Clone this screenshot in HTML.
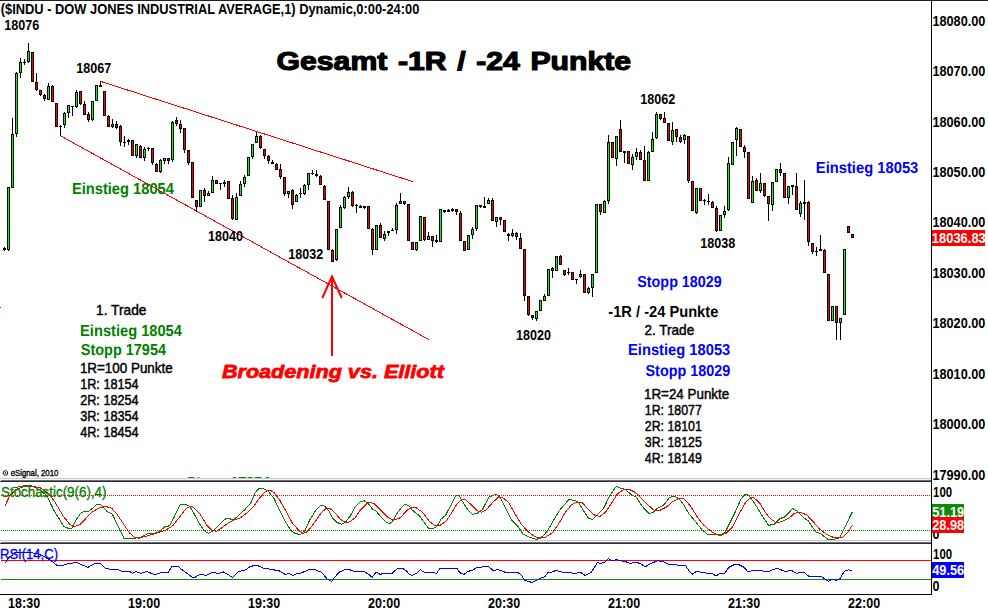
<!DOCTYPE html>
<html><head><meta charset="utf-8"><title>chart</title>
<style>
html,body{margin:0;padding:0;background:#fff}
body{width:988px;height:614px;overflow:hidden}
svg{display:block;font-family:"Liberation Sans",sans-serif}
</style></head><body>
<svg width="988" height="614" viewBox="0 0 988 614">
<rect width="988" height="614" fill="#fff"/>
<g shape-rendering="crispEdges">
<rect x="0" y="0" width="988" height="1" fill="#1a261a"/>
<rect x="931" y="0" width="1" height="595" fill="#000"/>
<!-- clipped text peeking above splitter -->
</g>
<svg x="180" y="477" width="100" height="1" viewBox="180 477 100 1"><text x="186.5" y="488.25" text-rendering="geometricPrecision" font-size="15.94" font-weight="bold" fill="#008000" stroke="#008000" stroke-width="0.5" textLength="83.3" lengthAdjust="spacingAndGlyphs">Stopp 17954</text></svg>
<g shape-rendering="crispEdges">
<!-- splitters -->
<rect x="0" y="478" width="931" height="1" fill="#c6ccc6"/>
<rect x="0" y="479" width="931" height="1" fill="#f4f6f4"/>
<rect x="1" y="480" width="930" height="1" fill="#6e6a78"/>
<rect x="0" y="481" width="931" height="1" fill="#2e2a32"/>
<rect x="0" y="540" width="931" height="1" fill="#c6ccc6"/>
<rect x="0" y="541" width="931" height="1" fill="#f4f6f4"/>
<rect x="1" y="542" width="930" height="1" fill="#6e6a78"/>
<rect x="0" y="543" width="931" height="1" fill="#2e2a32"/>
<rect x="0" y="594" width="932" height="1" fill="#000"/>
<rect x="0" y="307" width="1" height="1" fill="#f00"/>
<!-- stochastic levels -->
<line x1="1" y1="495.5" x2="931" y2="495.5" stroke="#f00" stroke-width="1" stroke-dasharray="1 1"/>
<line x1="1" y1="530.5" x2="931" y2="530.5" stroke="#008000" stroke-width="1" stroke-dasharray="1 1"/>
<!-- rsi levels -->
<rect x="1" y="560" width="930" height="1" fill="#f00"/>
<rect x="1" y="579" width="930" height="1" fill="#089008"/>
<!-- trend lines -->
<line x1="101" y1="81.5" x2="413" y2="181.7" stroke="#f00" stroke-width="1"/>
<line x1="60.5" y1="135.8" x2="429" y2="339.7" stroke="#f00" stroke-width="1"/>
</g>
<g shape-rendering="crispEdges" fill="#000">
<rect x="8" y="187" width="1" height="64"/>
<rect x="7" y="187" width="3" height="63"/>
<rect x="8" y="188" width="1" height="61" fill="#0f0"/>
<rect x="12" y="118" width="1" height="70"/>
<rect x="11" y="134" width="3" height="54"/>
<rect x="12" y="135" width="1" height="52" fill="#0f0"/>
<rect x="16" y="72" width="1" height="65"/>
<rect x="15" y="73" width="3" height="61"/>
<rect x="16" y="74" width="1" height="59" fill="#0f0"/>
<rect x="20" y="58" width="1" height="20"/>
<rect x="19" y="62" width="3" height="11"/>
<rect x="20" y="63" width="1" height="9" fill="#0f0"/>
<rect x="28" y="43" width="1" height="20"/>
<rect x="27" y="51" width="3" height="11"/>
<rect x="28" y="52" width="1" height="9" fill="#0f0"/>
<rect x="31" y="52" width="3" height="30"/>
<rect x="32" y="53" width="1" height="28" fill="#f00"/>
<rect x="36" y="73" width="1" height="18"/>
<rect x="35" y="82" width="3" height="8"/>
<rect x="36" y="83" width="1" height="6" fill="#f00"/>
<rect x="40" y="90" width="1" height="6"/>
<rect x="39" y="90" width="3" height="5"/>
<rect x="40" y="91" width="1" height="3" fill="#f00"/>
<rect x="44" y="94" width="1" height="7"/>
<rect x="43" y="95" width="3" height="4"/>
<rect x="44" y="96" width="1" height="2" fill="#f00"/>
<rect x="48" y="83" width="1" height="17"/>
<rect x="47" y="86" width="3" height="14"/>
<rect x="48" y="87" width="1" height="12" fill="#0f0"/>
<rect x="52" y="85" width="1" height="17"/>
<rect x="51" y="86" width="3" height="16"/>
<rect x="52" y="87" width="1" height="14" fill="#f00"/>
<rect x="55" y="103" width="3" height="24"/>
<rect x="56" y="104" width="1" height="22" fill="#f00"/>
<rect x="64" y="112" width="1" height="16"/>
<rect x="63" y="113" width="3" height="12"/>
<rect x="64" y="114" width="1" height="10" fill="#0f0"/>
<rect x="68" y="105" width="1" height="13"/>
<rect x="67" y="105" width="3" height="8"/>
<rect x="68" y="106" width="1" height="6" fill="#0f0"/>
<rect x="76" y="90" width="1" height="18"/>
<rect x="75" y="92" width="3" height="15"/>
<rect x="76" y="93" width="1" height="13" fill="#0f0"/>
<rect x="80" y="91" width="1" height="14"/>
<rect x="79" y="91" width="3" height="13"/>
<rect x="80" y="92" width="1" height="11" fill="#f00"/>
<rect x="84" y="101" width="1" height="14"/>
<rect x="83" y="104" width="3" height="11"/>
<rect x="84" y="105" width="1" height="9" fill="#f00"/>
<rect x="88" y="112" width="1" height="10"/>
<rect x="87" y="114" width="3" height="6"/>
<rect x="88" y="115" width="1" height="4" fill="#f00"/>
<rect x="92" y="101" width="1" height="20"/>
<rect x="91" y="101" width="3" height="19"/>
<rect x="92" y="102" width="1" height="17" fill="#0f0"/>
<rect x="95" y="85" width="3" height="16"/>
<rect x="96" y="86" width="1" height="14" fill="#0f0"/>
<rect x="103" y="91" width="3" height="25"/>
<rect x="104" y="92" width="1" height="23" fill="#f00"/>
<rect x="108" y="115" width="1" height="12"/>
<rect x="107" y="116" width="3" height="11"/>
<rect x="108" y="117" width="1" height="9" fill="#f00"/>
<rect x="112" y="119" width="1" height="9"/>
<rect x="111" y="124" width="3" height="3"/>
<rect x="112" y="125" width="1" height="1" fill="#0f0"/>
<rect x="116" y="121" width="1" height="8"/>
<rect x="115" y="124" width="3" height="4"/>
<rect x="116" y="125" width="1" height="2" fill="#f00"/>
<rect x="120" y="125" width="1" height="21"/>
<rect x="119" y="126" width="3" height="16"/>
<rect x="120" y="127" width="1" height="14" fill="#f00"/>
<rect x="131" y="140" width="3" height="16"/>
<rect x="132" y="141" width="1" height="14" fill="#f00"/>
<rect x="136" y="144" width="1" height="14"/>
<rect x="135" y="144" width="3" height="12"/>
<rect x="136" y="145" width="1" height="10" fill="#0f0"/>
<rect x="140" y="145" width="1" height="13"/>
<rect x="139" y="146" width="3" height="12"/>
<rect x="140" y="147" width="1" height="10" fill="#f00"/>
<rect x="144" y="147" width="1" height="14"/>
<rect x="143" y="149" width="3" height="9"/>
<rect x="144" y="150" width="1" height="7" fill="#0f0"/>
<rect x="152" y="148" width="1" height="17"/>
<rect x="151" y="148" width="3" height="15"/>
<rect x="152" y="149" width="1" height="13" fill="#f00"/>
<rect x="156" y="163" width="1" height="9"/>
<rect x="155" y="164" width="3" height="8"/>
<rect x="156" y="165" width="1" height="6" fill="#f00"/>
<rect x="160" y="159" width="1" height="14"/>
<rect x="159" y="160" width="3" height="12"/>
<rect x="160" y="161" width="1" height="10" fill="#0f0"/>
<rect x="164" y="158" width="1" height="6"/>
<rect x="163" y="158" width="3" height="3"/>
<rect x="164" y="159" width="1" height="1" fill="#0f0"/>
<rect x="168" y="158" width="1" height="6"/>
<rect x="167" y="158" width="3" height="3"/>
<rect x="168" y="159" width="1" height="1" fill="#f00"/>
<rect x="172" y="121" width="1" height="41"/>
<rect x="171" y="122" width="3" height="38"/>
<rect x="172" y="123" width="1" height="36" fill="#0f0"/>
<rect x="176" y="117" width="1" height="9"/>
<rect x="175" y="120" width="3" height="4"/>
<rect x="176" y="121" width="1" height="2" fill="#f00"/>
<rect x="180" y="120" width="1" height="13"/>
<rect x="179" y="124" width="3" height="5"/>
<rect x="180" y="125" width="1" height="3" fill="#f00"/>
<rect x="184" y="128" width="1" height="25"/>
<rect x="183" y="128" width="3" height="22"/>
<rect x="184" y="129" width="1" height="20" fill="#f00"/>
<rect x="188" y="150" width="1" height="15"/>
<rect x="187" y="150" width="3" height="13"/>
<rect x="188" y="151" width="1" height="11" fill="#f00"/>
<rect x="191" y="162" width="3" height="36"/>
<rect x="192" y="163" width="1" height="34" fill="#f00"/>
<rect x="196" y="200" width="1" height="12"/>
<rect x="195" y="200" width="3" height="7"/>
<rect x="196" y="201" width="1" height="5" fill="#f00"/>
<rect x="199" y="190" width="3" height="17"/>
<rect x="200" y="191" width="1" height="15" fill="#0f0"/>
<rect x="204" y="188" width="1" height="14"/>
<rect x="203" y="190" width="3" height="6"/>
<rect x="204" y="191" width="1" height="4" fill="#f00"/>
<rect x="208" y="191" width="1" height="5"/>
<rect x="207" y="193" width="3" height="3"/>
<rect x="208" y="194" width="1" height="1" fill="#0f0"/>
<rect x="212" y="176" width="1" height="17"/>
<rect x="211" y="180" width="3" height="13"/>
<rect x="212" y="181" width="1" height="11" fill="#0f0"/>
<rect x="215" y="180" width="3" height="4"/>
<rect x="216" y="181" width="1" height="2" fill="#f00"/>
<rect x="227" y="181" width="3" height="18"/>
<rect x="228" y="182" width="1" height="16" fill="#f00"/>
<rect x="232" y="195" width="1" height="25"/>
<rect x="231" y="198" width="3" height="21"/>
<rect x="232" y="199" width="1" height="19" fill="#f00"/>
<rect x="236" y="193" width="1" height="27"/>
<rect x="235" y="197" width="3" height="23"/>
<rect x="236" y="198" width="1" height="21" fill="#0f0"/>
<rect x="240" y="181" width="1" height="15"/>
<rect x="239" y="184" width="3" height="12"/>
<rect x="240" y="185" width="1" height="10" fill="#0f0"/>
<rect x="244" y="175" width="1" height="12"/>
<rect x="243" y="177" width="3" height="7"/>
<rect x="244" y="178" width="1" height="5" fill="#0f0"/>
<rect x="247" y="157" width="3" height="19"/>
<rect x="248" y="158" width="1" height="17" fill="#0f0"/>
<rect x="252" y="144" width="1" height="15"/>
<rect x="251" y="144" width="3" height="13"/>
<rect x="252" y="145" width="1" height="11" fill="#0f0"/>
<rect x="256" y="132" width="1" height="11"/>
<rect x="255" y="136" width="3" height="7"/>
<rect x="256" y="137" width="1" height="5" fill="#0f0"/>
<rect x="260" y="135" width="1" height="14"/>
<rect x="259" y="136" width="3" height="12"/>
<rect x="260" y="137" width="1" height="10" fill="#f00"/>
<rect x="264" y="149" width="1" height="10"/>
<rect x="263" y="149" width="3" height="7"/>
<rect x="264" y="150" width="1" height="5" fill="#f00"/>
<rect x="268" y="155" width="1" height="9"/>
<rect x="267" y="156" width="3" height="5"/>
<rect x="268" y="157" width="1" height="3" fill="#f00"/>
<rect x="276" y="163" width="1" height="7"/>
<rect x="275" y="164" width="3" height="6"/>
<rect x="276" y="165" width="1" height="4" fill="#f00"/>
<rect x="280" y="164" width="1" height="15"/>
<rect x="279" y="169" width="3" height="8"/>
<rect x="280" y="170" width="1" height="6" fill="#f00"/>
<rect x="284" y="177" width="1" height="19"/>
<rect x="283" y="177" width="3" height="17"/>
<rect x="284" y="178" width="1" height="15" fill="#f00"/>
<rect x="288" y="191" width="1" height="7"/>
<rect x="287" y="191" width="3" height="3"/>
<rect x="288" y="192" width="1" height="1" fill="#0f0"/>
<rect x="292" y="189" width="1" height="20"/>
<rect x="291" y="190" width="3" height="15"/>
<rect x="292" y="191" width="1" height="13" fill="#f00"/>
<rect x="296" y="194" width="1" height="8"/>
<rect x="295" y="195" width="3" height="7"/>
<rect x="296" y="196" width="1" height="5" fill="#0f0"/>
<rect x="304" y="184" width="1" height="11"/>
<rect x="303" y="185" width="3" height="9"/>
<rect x="304" y="186" width="1" height="7" fill="#0f0"/>
<rect x="308" y="173" width="1" height="17"/>
<rect x="307" y="173" width="3" height="12"/>
<rect x="308" y="174" width="1" height="10" fill="#0f0"/>
<rect x="320" y="175" width="1" height="10"/>
<rect x="319" y="176" width="3" height="9"/>
<rect x="320" y="177" width="1" height="7" fill="#f00"/>
<rect x="324" y="185" width="1" height="15"/>
<rect x="323" y="186" width="3" height="14"/>
<rect x="324" y="187" width="1" height="12" fill="#f00"/>
<rect x="327" y="201" width="3" height="49"/>
<rect x="328" y="202" width="1" height="47" fill="#f00"/>
<rect x="332" y="249" width="1" height="13"/>
<rect x="331" y="250" width="3" height="12"/>
<rect x="332" y="251" width="1" height="10" fill="#f00"/>
<rect x="336" y="229" width="1" height="32"/>
<rect x="335" y="229" width="3" height="31"/>
<rect x="336" y="230" width="1" height="29" fill="#0f0"/>
<rect x="340" y="205" width="1" height="23"/>
<rect x="339" y="207" width="3" height="21"/>
<rect x="340" y="208" width="1" height="19" fill="#0f0"/>
<rect x="344" y="196" width="1" height="13"/>
<rect x="343" y="197" width="3" height="11"/>
<rect x="344" y="198" width="1" height="9" fill="#0f0"/>
<rect x="348" y="187" width="1" height="12"/>
<rect x="347" y="192" width="3" height="5"/>
<rect x="348" y="193" width="1" height="3" fill="#0f0"/>
<rect x="352" y="191" width="1" height="16"/>
<rect x="351" y="192" width="3" height="14"/>
<rect x="352" y="193" width="1" height="12" fill="#f00"/>
<rect x="367" y="206" width="3" height="23"/>
<rect x="368" y="207" width="1" height="21" fill="#f00"/>
<rect x="372" y="228" width="1" height="27"/>
<rect x="371" y="229" width="3" height="21"/>
<rect x="372" y="230" width="1" height="19" fill="#f00"/>
<rect x="375" y="225" width="3" height="25"/>
<rect x="376" y="226" width="1" height="23" fill="#0f0"/>
<rect x="380" y="223" width="1" height="15"/>
<rect x="379" y="225" width="3" height="13"/>
<rect x="380" y="226" width="1" height="11" fill="#f00"/>
<rect x="384" y="231" width="1" height="10"/>
<rect x="383" y="234" width="3" height="5"/>
<rect x="384" y="235" width="1" height="3" fill="#0f0"/>
<rect x="396" y="203" width="1" height="31"/>
<rect x="395" y="205" width="3" height="25"/>
<rect x="396" y="206" width="1" height="23" fill="#0f0"/>
<rect x="400" y="193" width="1" height="11"/>
<rect x="399" y="201" width="3" height="3"/>
<rect x="400" y="202" width="1" height="1" fill="#0f0"/>
<rect x="404" y="201" width="1" height="4"/>
<rect x="403" y="201" width="3" height="3"/>
<rect x="404" y="202" width="1" height="1" fill="#f00"/>
<rect x="407" y="204" width="3" height="37"/>
<rect x="408" y="205" width="1" height="35" fill="#f00"/>
<rect x="411" y="242" width="3" height="8"/>
<rect x="412" y="243" width="1" height="6" fill="#f00"/>
<rect x="416" y="242" width="1" height="9"/>
<rect x="415" y="242" width="3" height="8"/>
<rect x="416" y="243" width="1" height="6" fill="#0f0"/>
<rect x="419" y="216" width="3" height="25"/>
<rect x="420" y="217" width="1" height="23" fill="#0f0"/>
<rect x="424" y="217" width="1" height="24"/>
<rect x="423" y="217" width="3" height="23"/>
<rect x="424" y="218" width="1" height="21" fill="#f00"/>
<rect x="428" y="232" width="1" height="8"/>
<rect x="427" y="236" width="3" height="4"/>
<rect x="428" y="237" width="1" height="2" fill="#0f0"/>
<rect x="432" y="236" width="1" height="11"/>
<rect x="431" y="236" width="3" height="5"/>
<rect x="432" y="237" width="1" height="3" fill="#f00"/>
<rect x="439" y="209" width="3" height="33"/>
<rect x="440" y="210" width="1" height="31" fill="#0f0"/>
<rect x="456" y="209" width="1" height="6"/>
<rect x="455" y="209" width="3" height="3"/>
<rect x="456" y="210" width="1" height="1" fill="#f00"/>
<rect x="460" y="211" width="1" height="30"/>
<rect x="459" y="213" width="3" height="28"/>
<rect x="460" y="214" width="1" height="26" fill="#f00"/>
<rect x="463" y="241" width="3" height="10"/>
<rect x="464" y="242" width="1" height="8" fill="#f00"/>
<rect x="467" y="235" width="3" height="15"/>
<rect x="468" y="236" width="1" height="13" fill="#0f0"/>
<rect x="472" y="227" width="1" height="12"/>
<rect x="471" y="229" width="3" height="6"/>
<rect x="472" y="230" width="1" height="4" fill="#0f0"/>
<rect x="476" y="205" width="1" height="26"/>
<rect x="475" y="205" width="3" height="24"/>
<rect x="476" y="206" width="1" height="22" fill="#0f0"/>
<rect x="488" y="198" width="1" height="6"/>
<rect x="487" y="200" width="3" height="4"/>
<rect x="488" y="201" width="1" height="2" fill="#0f0"/>
<rect x="492" y="198" width="1" height="23"/>
<rect x="491" y="200" width="3" height="21"/>
<rect x="492" y="201" width="1" height="19" fill="#f00"/>
<rect x="496" y="217" width="1" height="10"/>
<rect x="495" y="217" width="3" height="5"/>
<rect x="496" y="218" width="1" height="3" fill="#0f0"/>
<rect x="500" y="217" width="1" height="8"/>
<rect x="499" y="217" width="3" height="3"/>
<rect x="500" y="218" width="1" height="1" fill="#f00"/>
<rect x="503" y="220" width="3" height="12"/>
<rect x="504" y="221" width="1" height="10" fill="#f00"/>
<rect x="512" y="229" width="1" height="8"/>
<rect x="511" y="233" width="3" height="3"/>
<rect x="512" y="234" width="1" height="1" fill="#0f0"/>
<rect x="516" y="232" width="1" height="8"/>
<rect x="515" y="233" width="3" height="4"/>
<rect x="516" y="234" width="1" height="2" fill="#f00"/>
<rect x="520" y="233" width="1" height="16"/>
<rect x="519" y="238" width="3" height="11"/>
<rect x="520" y="239" width="1" height="9" fill="#f00"/>
<rect x="524" y="249" width="1" height="52"/>
<rect x="523" y="249" width="3" height="47"/>
<rect x="524" y="250" width="1" height="45" fill="#f00"/>
<rect x="528" y="296" width="1" height="20"/>
<rect x="527" y="296" width="3" height="19"/>
<rect x="528" y="297" width="1" height="17" fill="#f00"/>
<rect x="532" y="315" width="1" height="5"/>
<rect x="531" y="315" width="3" height="3"/>
<rect x="532" y="316" width="1" height="1" fill="#f00"/>
<rect x="536" y="311" width="1" height="10"/>
<rect x="535" y="311" width="3" height="8"/>
<rect x="536" y="312" width="1" height="6" fill="#0f0"/>
<rect x="539" y="300" width="3" height="11"/>
<rect x="540" y="301" width="1" height="9" fill="#0f0"/>
<rect x="544" y="294" width="1" height="7"/>
<rect x="543" y="296" width="3" height="5"/>
<rect x="544" y="297" width="1" height="3" fill="#0f0"/>
<rect x="547" y="269" width="3" height="27"/>
<rect x="548" y="270" width="1" height="25" fill="#0f0"/>
<rect x="552" y="267" width="1" height="11"/>
<rect x="551" y="268" width="3" height="3"/>
<rect x="552" y="269" width="1" height="1" fill="#f00"/>
<rect x="555" y="256" width="3" height="15"/>
<rect x="556" y="257" width="1" height="13" fill="#0f0"/>
<rect x="560" y="255" width="1" height="10"/>
<rect x="559" y="256" width="3" height="9"/>
<rect x="560" y="257" width="1" height="7" fill="#f00"/>
<rect x="564" y="270" width="1" height="6"/>
<rect x="563" y="270" width="3" height="5"/>
<rect x="564" y="271" width="1" height="3" fill="#f00"/>
<rect x="571" y="272" width="3" height="8"/>
<rect x="572" y="273" width="1" height="6" fill="#f00"/>
<rect x="580" y="270" width="1" height="8"/>
<rect x="579" y="274" width="3" height="3"/>
<rect x="580" y="275" width="1" height="1" fill="#0f0"/>
<rect x="583" y="274" width="3" height="19"/>
<rect x="584" y="275" width="1" height="17" fill="#f00"/>
<rect x="588" y="287" width="1" height="7"/>
<rect x="587" y="288" width="3" height="5"/>
<rect x="588" y="289" width="1" height="3" fill="#0f0"/>
<rect x="592" y="274" width="1" height="23"/>
<rect x="591" y="274" width="3" height="14"/>
<rect x="592" y="275" width="1" height="12" fill="#0f0"/>
<rect x="595" y="204" width="3" height="69"/>
<rect x="596" y="205" width="1" height="67" fill="#0f0"/>
<rect x="600" y="204" width="1" height="11"/>
<rect x="599" y="204" width="3" height="8"/>
<rect x="600" y="205" width="1" height="6" fill="#f00"/>
<rect x="604" y="200" width="1" height="13"/>
<rect x="603" y="201" width="3" height="12"/>
<rect x="604" y="202" width="1" height="10" fill="#0f0"/>
<rect x="608" y="135" width="1" height="69"/>
<rect x="607" y="142" width="3" height="59"/>
<rect x="608" y="143" width="1" height="57" fill="#0f0"/>
<rect x="611" y="142" width="3" height="16"/>
<rect x="612" y="143" width="1" height="14" fill="#f00"/>
<rect x="616" y="136" width="1" height="30"/>
<rect x="615" y="136" width="3" height="23"/>
<rect x="616" y="137" width="1" height="21" fill="#0f0"/>
<rect x="620" y="120" width="1" height="32"/>
<rect x="619" y="129" width="3" height="23"/>
<rect x="620" y="130" width="1" height="21" fill="#f00"/>
<rect x="627" y="151" width="3" height="13"/>
<rect x="628" y="152" width="1" height="11" fill="#f00"/>
<rect x="632" y="154" width="1" height="16"/>
<rect x="631" y="157" width="3" height="8"/>
<rect x="632" y="158" width="1" height="6" fill="#0f0"/>
<rect x="636" y="148" width="1" height="12"/>
<rect x="635" y="152" width="3" height="5"/>
<rect x="636" y="153" width="1" height="3" fill="#0f0"/>
<rect x="640" y="150" width="1" height="10"/>
<rect x="639" y="152" width="3" height="8"/>
<rect x="640" y="153" width="1" height="6" fill="#f00"/>
<rect x="644" y="146" width="1" height="35"/>
<rect x="643" y="160" width="3" height="21"/>
<rect x="644" y="161" width="1" height="19" fill="#f00"/>
<rect x="648" y="151" width="1" height="30"/>
<rect x="647" y="152" width="3" height="29"/>
<rect x="648" y="153" width="1" height="27" fill="#0f0"/>
<rect x="652" y="132" width="1" height="20"/>
<rect x="651" y="139" width="3" height="13"/>
<rect x="652" y="140" width="1" height="11" fill="#0f0"/>
<rect x="656" y="112" width="1" height="27"/>
<rect x="655" y="114" width="3" height="24"/>
<rect x="656" y="115" width="1" height="22" fill="#0f0"/>
<rect x="660" y="114" width="1" height="6"/>
<rect x="659" y="114" width="3" height="5"/>
<rect x="660" y="115" width="1" height="3" fill="#f00"/>
<rect x="664" y="112" width="1" height="11"/>
<rect x="663" y="118" width="3" height="5"/>
<rect x="664" y="119" width="1" height="3" fill="#f00"/>
<rect x="667" y="123" width="3" height="18"/>
<rect x="668" y="124" width="1" height="16" fill="#f00"/>
<rect x="672" y="122" width="1" height="23"/>
<rect x="671" y="130" width="3" height="12"/>
<rect x="672" y="131" width="1" height="10" fill="#0f0"/>
<rect x="676" y="129" width="1" height="13"/>
<rect x="675" y="129" width="3" height="8"/>
<rect x="676" y="130" width="1" height="6" fill="#f00"/>
<rect x="680" y="135" width="1" height="8"/>
<rect x="679" y="137" width="3" height="5"/>
<rect x="680" y="138" width="1" height="3" fill="#f00"/>
<rect x="684" y="134" width="1" height="10"/>
<rect x="683" y="135" width="3" height="5"/>
<rect x="684" y="136" width="1" height="3" fill="#0f0"/>
<rect x="688" y="136" width="1" height="47"/>
<rect x="687" y="136" width="3" height="45"/>
<rect x="688" y="137" width="1" height="43" fill="#f00"/>
<rect x="691" y="181" width="3" height="30"/>
<rect x="692" y="182" width="1" height="28" fill="#f00"/>
<rect x="696" y="188" width="1" height="26"/>
<rect x="695" y="188" width="3" height="25"/>
<rect x="696" y="189" width="1" height="23" fill="#0f0"/>
<rect x="699" y="188" width="3" height="13"/>
<rect x="700" y="189" width="1" height="11" fill="#f00"/>
<rect x="712" y="201" width="1" height="7"/>
<rect x="711" y="202" width="3" height="6"/>
<rect x="712" y="203" width="1" height="4" fill="#f00"/>
<rect x="716" y="206" width="1" height="26"/>
<rect x="715" y="208" width="3" height="23"/>
<rect x="716" y="209" width="1" height="21" fill="#f00"/>
<rect x="719" y="215" width="3" height="16"/>
<rect x="720" y="216" width="1" height="14" fill="#0f0"/>
<rect x="724" y="206" width="1" height="12"/>
<rect x="723" y="211" width="3" height="4"/>
<rect x="724" y="212" width="1" height="2" fill="#0f0"/>
<rect x="728" y="157" width="1" height="54"/>
<rect x="727" y="163" width="3" height="47"/>
<rect x="728" y="164" width="1" height="45" fill="#0f0"/>
<rect x="731" y="142" width="3" height="23"/>
<rect x="732" y="143" width="1" height="21" fill="#0f0"/>
<rect x="736" y="127" width="1" height="29"/>
<rect x="735" y="128" width="3" height="12"/>
<rect x="736" y="129" width="1" height="10" fill="#0f0"/>
<rect x="739" y="129" width="3" height="18"/>
<rect x="740" y="130" width="1" height="16" fill="#f00"/>
<rect x="744" y="145" width="1" height="13"/>
<rect x="743" y="147" width="3" height="5"/>
<rect x="744" y="148" width="1" height="3" fill="#f00"/>
<rect x="747" y="152" width="3" height="47"/>
<rect x="748" y="153" width="1" height="45" fill="#f00"/>
<rect x="752" y="176" width="1" height="27"/>
<rect x="751" y="181" width="3" height="22"/>
<rect x="752" y="182" width="1" height="20" fill="#0f0"/>
<rect x="756" y="178" width="1" height="13"/>
<rect x="755" y="180" width="3" height="11"/>
<rect x="756" y="181" width="1" height="9" fill="#f00"/>
<rect x="760" y="173" width="1" height="20"/>
<rect x="759" y="183" width="3" height="8"/>
<rect x="760" y="184" width="1" height="6" fill="#0f0"/>
<rect x="764" y="183" width="1" height="14"/>
<rect x="763" y="183" width="3" height="13"/>
<rect x="764" y="184" width="1" height="11" fill="#f00"/>
<rect x="768" y="196" width="1" height="25"/>
<rect x="767" y="196" width="3" height="8"/>
<rect x="768" y="197" width="1" height="6" fill="#f00"/>
<rect x="772" y="182" width="1" height="29"/>
<rect x="771" y="182" width="3" height="23"/>
<rect x="772" y="183" width="1" height="21" fill="#0f0"/>
<rect x="775" y="169" width="3" height="13"/>
<rect x="776" y="170" width="1" height="11" fill="#0f0"/>
<rect x="780" y="163" width="1" height="13"/>
<rect x="779" y="169" width="3" height="4"/>
<rect x="780" y="170" width="1" height="2" fill="#f00"/>
<rect x="783" y="173" width="3" height="25"/>
<rect x="784" y="174" width="1" height="23" fill="#f00"/>
<rect x="788" y="186" width="1" height="18"/>
<rect x="787" y="186" width="3" height="12"/>
<rect x="788" y="187" width="1" height="10" fill="#0f0"/>
<rect x="796" y="173" width="1" height="37"/>
<rect x="795" y="186" width="3" height="24"/>
<rect x="796" y="187" width="1" height="22" fill="#f00"/>
<rect x="800" y="201" width="1" height="16"/>
<rect x="799" y="203" width="3" height="11"/>
<rect x="800" y="204" width="1" height="9" fill="#0f0"/>
<rect x="808" y="201" width="1" height="45"/>
<rect x="807" y="202" width="3" height="40"/>
<rect x="808" y="203" width="1" height="38" fill="#f00"/>
<rect x="812" y="243" width="1" height="11"/>
<rect x="811" y="243" width="3" height="9"/>
<rect x="812" y="244" width="1" height="7" fill="#f00"/>
<rect x="824" y="249" width="1" height="24"/>
<rect x="823" y="250" width="3" height="23"/>
<rect x="824" y="251" width="1" height="21" fill="#f00"/>
<rect x="827" y="274" width="3" height="47"/>
<rect x="828" y="275" width="1" height="45" fill="#f00"/>
<rect x="831" y="306" width="3" height="15"/>
<rect x="832" y="307" width="1" height="13" fill="#0f0"/>
<rect x="836" y="306" width="1" height="34"/>
<rect x="835" y="306" width="3" height="17"/>
<rect x="836" y="307" width="1" height="15" fill="#f00"/>
<rect x="840" y="318" width="1" height="22"/>
<rect x="839" y="318" width="3" height="5"/>
<rect x="840" y="319" width="1" height="3" fill="#0f0"/>
<rect x="843" y="249" width="3" height="66"/>
<rect x="844" y="250" width="1" height="64" fill="#0f0"/>
<rect x="847" y="226" width="3" height="7"/>
<rect x="848" y="227" width="1" height="5" fill="#f00"/>
<rect x="851" y="234" width="3" height="4"/>
<rect x="852" y="235" width="1" height="2" fill="#f00"/>
<rect x="4" y="247" width="1" height="4"/>
<rect x="3" y="248" width="3" height="2"/>
<rect x="24" y="59" width="1" height="6"/>
<rect x="23" y="62" width="3" height="1"/>
<rect x="60" y="125" width="1" height="11"/>
<rect x="59" y="126" width="3" height="1"/>
<rect x="72" y="106" width="1" height="10"/>
<rect x="71" y="106" width="3" height="1"/>
<rect x="100" y="81" width="1" height="5"/>
<rect x="99" y="85" width="3" height="2"/>
<rect x="124" y="136" width="1" height="11"/>
<rect x="123" y="142" width="3" height="1"/>
<rect x="128" y="139" width="1" height="6"/>
<rect x="127" y="140" width="3" height="2"/>
<rect x="148" y="147" width="1" height="4"/>
<rect x="147" y="148" width="3" height="1"/>
<rect x="220" y="184" width="1" height="6"/>
<rect x="219" y="183" width="3" height="1"/>
<rect x="224" y="180" width="1" height="7"/>
<rect x="223" y="182" width="3" height="2"/>
<rect x="272" y="160" width="1" height="4"/>
<rect x="271" y="162" width="3" height="2"/>
<rect x="300" y="188" width="1" height="10"/>
<rect x="299" y="193" width="3" height="1"/>
<rect x="312" y="170" width="1" height="5"/>
<rect x="311" y="173" width="3" height="1"/>
<rect x="316" y="170" width="1" height="7"/>
<rect x="315" y="174" width="3" height="2"/>
<rect x="356" y="204" width="1" height="9"/>
<rect x="355" y="205" width="3" height="1"/>
<rect x="360" y="205" width="1" height="3"/>
<rect x="359" y="206" width="3" height="2"/>
<rect x="364" y="206" width="1" height="3"/>
<rect x="363" y="206" width="3" height="2"/>
<rect x="388" y="231" width="1" height="5"/>
<rect x="387" y="231" width="3" height="2"/>
<rect x="392" y="228" width="1" height="3"/>
<rect x="391" y="230" width="3" height="1"/>
<rect x="436" y="235" width="1" height="8"/>
<rect x="435" y="240" width="3" height="2"/>
<rect x="444" y="210" width="1" height="3"/>
<rect x="443" y="210" width="3" height="2"/>
<rect x="448" y="209" width="1" height="3"/>
<rect x="447" y="210" width="3" height="2"/>
<rect x="452" y="208" width="1" height="4"/>
<rect x="451" y="209" width="3" height="2"/>
<rect x="480" y="205" width="1" height="3"/>
<rect x="479" y="205" width="3" height="2"/>
<rect x="484" y="197" width="1" height="11"/>
<rect x="483" y="206" width="3" height="2"/>
<rect x="508" y="233" width="1" height="8"/>
<rect x="507" y="234" width="3" height="2"/>
<rect x="568" y="268" width="1" height="7"/>
<rect x="567" y="272" width="3" height="1"/>
<rect x="576" y="280" width="1" height="4"/>
<rect x="575" y="279" width="3" height="1"/>
<rect x="624" y="151" width="1" height="12"/>
<rect x="623" y="151" width="3" height="2"/>
<rect x="704" y="199" width="1" height="6"/>
<rect x="703" y="200" width="3" height="1"/>
<rect x="708" y="194" width="1" height="11"/>
<rect x="707" y="201" width="3" height="1"/>
<rect x="792" y="186" width="1" height="9"/>
<rect x="791" y="185" width="3" height="2"/>
<rect x="804" y="180" width="1" height="40"/>
<rect x="803" y="202" width="3" height="2"/>
<rect x="816" y="247" width="1" height="9"/>
<rect x="815" y="251" width="3" height="1"/>
<rect x="820" y="235" width="1" height="16"/>
<rect x="819" y="249" width="3" height="2"/>
</g>
<g shape-rendering="crispEdges">
<polyline fill="none" stroke="#008000" stroke-width="1" points="13.0,488.0 20.0,486.5 27.5,485.3 32.4,486.1 40.0,490.0 47.0,495.8 53.4,509.6 64.0,526.6 68.0,528.2 72.0,528.2 76.0,520.0 81.0,512.8 84.2,511.5 88.3,511.5 93.0,508.0 97.2,504.2 100.4,504.2 106.9,511.2 112.5,514.4 119.8,529.8 123.9,538.2 134.4,538.2 140.9,537.1 147.4,533.9 153.8,533.4 159.7,531.4 164.6,526.9 169.4,525.8 174.3,516.9 180.0,504.7 184.8,504.2 189.7,506.3 193.7,512.8 198.6,522.5 204.3,530.6 208.3,533.4 213.2,530.6 218.0,525.8 224.5,519.3 228.5,518.2 232.6,519.8 237.4,516.9 243.9,510.4 250.4,503.9 255.3,492.6 258.5,488.9 262.6,488.5 268.2,491.3 273.9,498.2 279.6,510.4 284.4,520.1 290.9,530.6 295.7,533.9 300.6,534.2 304.9,530.6 309.7,520.1 316.2,509.6 321.1,505.2 325.1,506.3 329.1,511.2 332.4,517.7 337.2,522.5 341.3,524.2 345.3,522.5 350.2,516.1 355.1,507.1 359.9,502.0 364.0,500.7 368.0,503.1 372.1,508.8 376.1,511.2 381.0,516.9 385.8,521.7 389.1,523.7 392.3,522.0 396.4,514.4 402.0,506.8 405.3,504.2 408.5,505.5 412.6,510.4 419.8,516.1 424.7,523.3 428.7,528.2 432.8,528.5 436.8,526.6 440.9,519.3 445.7,515.2 450.6,505.5 455.5,495.8 458.9,495.5 463.0,502.3 467.8,509.6 472.7,514.4 478.3,512.8 482.4,509.6 488.9,497.1 496.2,494.2 500.2,497.4 505.1,507.1 511.5,520.1 518.0,526.6 522.9,533.9 527.7,536.6 536.6,539.5 542.3,536.6 547.2,531.4 553.6,520.1 560.1,509.6 569.0,499.4 577.9,501.5 582.8,509.6 588.5,518.2 592.5,519.3 597.4,514.4 603.8,508.0 609.7,495.8 616.2,486.4 620.2,488.0 625.1,489.3 630.8,494.2 636.4,497.4 642.1,506.3 648.6,513.3 652.6,512.8 656.7,508.8 664.0,504.7 669.6,497.4 674.5,496.1 679.4,499.1 684.2,505.5 688.3,512.8 695.5,521.7 702.0,529.8 708.5,535.0 713.4,534.4 719.8,535.0 724.7,533.1 729.6,523.3 736.0,510.4 740.9,499.1 745.0,494.2 749.0,495.5 754.9,503.9 761.3,514.4 768.6,525.4 774.3,524.2 780.0,518.5 784.8,516.9 788.9,512.8 792.4,508.4 797.0,511.2 803.4,517.7 808.3,520.9 813.2,528.2 816.4,532.3 820.4,533.4 827.7,539.2 834.2,539.2 839.9,537.1 845.5,525.8 852.3,512.0"/>
<polyline fill="none" stroke="#ff0000" stroke-width="1" points="5.2,505.5 9.7,495.8 16.2,489.3 24.3,486.4 32.4,486.1 40.5,488.0 48.6,493.4 55.0,502.3 63.2,516.0 69.6,524.2 74.5,526.6 79.4,525.0 85.8,518.5 92.3,512.0 98.8,508.0 105.3,506.3 111.7,508.3 116.6,513.6 123.1,523.3 129.6,533.1 134.4,537.1 139.3,538.2 145.7,536.3 153.8,533.9 158.1,532.7 166.2,529.8 172.7,525.8 179.1,517.7 185.6,509.1 189.7,506.3 192.9,506.8 200.2,514.4 206.7,525.0 211.5,529.8 216.4,531.4 221.3,528.2 227.7,523.3 234.2,519.8 240.7,517.7 247.2,512.8 253.6,506.3 260.1,497.4 265.8,491.3 269.8,490.1 273.9,492.3 279.6,499.9 286.0,511.2 292.5,523.3 299.0,530.6 303.0,533.4 306.3,532.3 309.7,529.0 316.2,520.1 321.1,512.8 325.9,508.8 330.0,508.4 334.8,512.8 340.5,519.3 345.3,522.5 349.4,522.0 355.1,517.7 360.7,509.6 366.4,503.9 369.6,502.3 374.5,503.9 381.0,510.4 387.4,516.9 393.1,520.4 400.4,517.7 406.9,510.4 411.7,507.5 416.6,508.0 423.1,512.8 429.6,521.7 435.2,525.8 440.1,525.3 445.7,521.7 452.2,512.0 456.5,504.7 461.3,499.9 465.4,499.4 471.1,504.7 476.7,510.4 481.6,512.3 486.4,509.6 492.9,502.3 498.6,497.1 502.6,497.4 509.1,503.1 514.8,513.6 521.3,524.2 527.7,531.4 534.2,536.3 539.9,538.2 545.5,537.1 552.0,533.1 558.5,524.2 565.0,512.8 571.5,504.7 577.1,502.0 582.0,502.3 587.7,508.8 594.1,514.9 599.8,516.5 605.7,512.0 612.1,502.3 617.8,493.4 623.5,489.7 629.1,489.3 635.6,492.6 642.1,499.1 648.6,505.5 654.3,510.4 659.1,510.7 666.4,507.1 672.9,501.5 679.4,498.2 684.2,499.1 690.7,506.3 697.2,516.9 703.6,525.0 710.1,530.6 716.6,534.7 720.6,535.5 726.3,533.1 732.8,526.6 739.3,513.6 745.7,502.3 750.6,497.4 754.0,497.8 759.7,503.1 766.2,513.6 771.1,519.3 776.7,523.0 782.4,521.4 788.9,518.2 794.5,513.3 800.2,512.3 806.7,514.9 813.2,521.7 819.6,529.0 826.1,533.9 832.6,537.1 838.3,538.2 843.1,537.1 847.2,533.1 852.3,525.3"/>
<polyline fill="none" stroke="#0000ff" stroke-width="1" points="5.5,563.4 6.8,560.7 8.7,557.5 11.9,555.6 14.0,553.0 16.0,552.0 22.0,552.0 30.0,552.5 38.0,554.0 44.0,556.5 48.0,559.0 50.6,560.2 56.7,565.3 62.8,565.3 68.8,563.3 76.9,562.7 83.0,565.3 88.0,567.3 94.1,563.9 100.2,563.3 105.3,568.3 111.3,569.4 117.4,569.4 121.5,571.4 129.6,571.4 132.6,573.4 135.6,571.4 140.7,573.4 146.8,571.4 154.9,574.8 161.9,572.4 168.0,572.4 172.1,566.3 178.1,566.3 184.2,571.4 192.3,577.4 194.0,577.9 200.1,574.4 206.2,575.4 212.3,572.4 218.3,573.4 223.4,572.0 228.5,574.8 232.5,577.4 238.6,571.4 244.7,570.4 250.7,566.3 256.8,565.3 262.9,567.9 271.0,569.4 279.1,570.8 285.1,574.4 289.2,573.4 292.8,575.4 297.3,573.4 301.3,573.0 308.4,569.8 314.5,569.4 321.6,572.4 327.7,579.5 331.7,581.5 334.7,577.4 338.8,572.4 343.8,570.0 348.9,569.4 354.0,571.4 364.1,571.4 369.1,574.8 372.2,577.4 376.2,572.0 380.3,574.4 383.3,573.4 392.1,573.4 397.2,568.7 402.3,568.3 406.3,570.8 409.4,574.4 412.4,575.4 417.4,572.8 420.5,569.8 424.5,572.4 433.6,572.4 436.3,573.8 439.7,568.7 456.9,568.3 460.0,572.8 464.0,574.4 468.1,571.4 473.1,570.0 477.2,567.3 484.3,566.9 488.3,566.3 493.4,570.8 497.4,569.4 501.5,570.8 505.5,572.4 517.7,572.4 520.7,574.4 524.7,580.1 528.8,581.5 532.2,582.5 536.9,580.1 540.9,578.1 545.0,576.8 548.0,572.4 552.1,572.0 556.1,570.4 562.2,572.0 570.3,572.8 576.1,573.4 580.1,572.0 585.2,575.4 591.3,572.4 597.3,562.7 600.4,563.3 604.4,562.3 608.5,558.6 612.5,560.9 616.6,559.4 620.6,560.9 624.7,561.3 629.7,563.3 636.8,562.3 640.9,563.9 644.9,566.9 650.0,563.9 657.0,560.9 663.1,561.3 669.2,564.9 675.3,564.7 680.3,565.9 685.4,565.3 689.4,571.4 692.5,574.0 696.5,571.4 703.6,572.8 711.7,573.4 716.2,576.0 719.8,573.4 724.9,573.0 728.9,567.3 734.0,564.7 738.0,564.3 744.1,567.3 748.1,572.0 752.2,570.4 756.2,571.0 760.3,570.4 767.4,572.0 772.4,570.0 777.4,568.3 782.5,570.4 785.5,571.4 791.6,570.4 796.7,573.4 800.7,572.4 804.8,572.8 808.8,576.4 821.0,576.4 825.0,578.9 828.5,581.5 831.1,579.5 836.2,580.1 840.2,578.5 844.3,571.4 848.3,569.8 852.3,570.8"/>
</g>
<!-- arrow -->
<g stroke="#f00" stroke-width="2" fill="none" stroke-linecap="butt">
<line x1="332" y1="276.5" x2="332" y2="356"/>
<polyline points="322.3,298 332,276.5 341.7,298"/>
</g>
<text x="932.4" y="539" font-size="14.5" font-weight="bold" fill="#000" textLength="7" lengthAdjust="spacingAndGlyphs">0</text>
<!-- tags -->
<g shape-rendering="crispEdges">
<rect x="932" y="230" width="53" height="16" fill="#f00"/>
<rect x="932" y="504" width="32" height="13" fill="#0a8c0a"/>
<rect x="932" y="517" width="32" height="16" fill="#f00" id="rt"/>
<rect x="932" y="562" width="32" height="16" fill="#00f"/>
</g>
<svg x="932" y="504" width="32" height="13" viewBox="932 504 32 13"><text x="932.2" y="517" font-size="14.5" font-weight="bold" fill="#fff" textLength="32" lengthAdjust="spacingAndGlyphs">51.19</text></svg>
<text x="1" y="497" font-size="14.5" fill="#008000" stroke="#008000" stroke-width="0.3" textLength="105.5" lengthAdjust="spacingAndGlyphs">Stochastic(9(6),4)</text>
<text x="0" y="559" font-size="14.5" fill="#0000ff" stroke="#0000ff" stroke-width="0.3" textLength="58" lengthAdjust="spacingAndGlyphs">RSI(14,C)</text>
<text x="0.7" y="14" font-size="14.5" font-weight="bold" fill="#000" textLength="418.6" lengthAdjust="spacingAndGlyphs">($INDU - DOW JONES INDUSTRIAL AVERAGE,1) Dynamic,0:00-24:00</text>
<text x="4.2" y="30" font-size="14.5" font-weight="bold" fill="#000" textLength="35" lengthAdjust="spacingAndGlyphs">18076</text>
<text x="76.2" y="73" font-size="14.5" font-weight="bold" fill="#000" textLength="35" lengthAdjust="spacingAndGlyphs">18067</text>
<text x="208.1" y="241" font-size="14.5" font-weight="bold" fill="#000" textLength="35" lengthAdjust="spacingAndGlyphs">18040</text>
<text x="288.2" y="259" font-size="14.5" font-weight="bold" fill="#000" textLength="35" lengthAdjust="spacingAndGlyphs">18032</text>
<text x="516.1" y="340" font-size="14.5" font-weight="bold" fill="#000" textLength="35" lengthAdjust="spacingAndGlyphs">18020</text>
<text x="640.1999999999999" y="104" font-size="14.5" font-weight="bold" fill="#000" textLength="35" lengthAdjust="spacingAndGlyphs">18062</text>
<text x="700.3" y="248" font-size="14.5" font-weight="bold" fill="#000" textLength="35" lengthAdjust="spacingAndGlyphs">18038</text>
<text x="71.9" y="194" font-size="15.94" font-weight="bold" fill="#008000" textLength="102" lengthAdjust="spacingAndGlyphs" text-rendering="geometricPrecision">Einstieg 18054</text>
<text x="815.8" y="173" font-size="15.94" font-weight="bold" fill="#0000ff" textLength="102.5" lengthAdjust="spacingAndGlyphs" text-rendering="geometricPrecision">Einstieg 18053</text>
<text x="276.6" y="69.7" font-size="26.5" font-weight="bold" fill="#000" textLength="354.5" lengthAdjust="spacingAndGlyphs" word-spacing="2" stroke="#000" stroke-width="1.2" stroke-linejoin="round">Gesamt -1R / -24 Punkte</text>
<text x="221.9" y="377.9" font-size="19" font-weight="bold" fill="#f00" textLength="222" lengthAdjust="spacingAndGlyphs" font-style="italic" stroke="#f00" stroke-width="0.8" stroke-linejoin="round">Broadening vs. Elliott</text>
<text x="96.1" y="315" font-size="14.5" font-weight="normal" fill="#000" textLength="50.3" lengthAdjust="spacingAndGlyphs" stroke="#000" stroke-width="0.45">1. Trade</text>
<text x="80.1" y="336" font-size="15.94" font-weight="bold" fill="#008000" textLength="101.8" lengthAdjust="spacingAndGlyphs" text-rendering="geometricPrecision">Einstieg 18054</text>
<text x="80.8" y="355" font-size="15.94" font-weight="bold" fill="#008000" textLength="85.2" lengthAdjust="spacingAndGlyphs" text-rendering="geometricPrecision">Stopp 17954</text>
<text x="79.9" y="373" font-size="14.5" font-weight="normal" fill="#000" textLength="92.8" lengthAdjust="spacingAndGlyphs" stroke="#000" stroke-width="0.45">1R=100 Punkte</text>
<text x="80.2" y="389" font-size="14.5" font-weight="normal" fill="#000" textLength="58.4" lengthAdjust="spacingAndGlyphs" stroke="#000" stroke-width="0.45">1R: 18154</text>
<text x="80.2" y="405" font-size="14.5" font-weight="normal" fill="#000" textLength="58.4" lengthAdjust="spacingAndGlyphs" stroke="#000" stroke-width="0.45">2R: 18254</text>
<text x="80.2" y="421" font-size="14.5" font-weight="normal" fill="#000" textLength="58.4" lengthAdjust="spacingAndGlyphs" stroke="#000" stroke-width="0.45">3R: 18354</text>
<text x="80.2" y="437" font-size="14.5" font-weight="normal" fill="#000" textLength="58.4" lengthAdjust="spacingAndGlyphs" stroke="#000" stroke-width="0.45">4R: 18454</text>
<text x="637.3" y="287" font-size="15.94" font-weight="bold" fill="#0000ff" textLength="84.4" lengthAdjust="spacingAndGlyphs" text-rendering="geometricPrecision">Stopp 18029</text>
<text x="608.3" y="317" font-size="15.94" font-weight="bold" fill="#000" textLength="110" lengthAdjust="spacingAndGlyphs" text-rendering="geometricPrecision">-1R / -24 Punkte</text>
<text x="644.4" y="335" font-size="14.5" font-weight="normal" fill="#000" textLength="49.8" lengthAdjust="spacingAndGlyphs" stroke="#000" stroke-width="0.45">2. Trade</text>
<text x="628" y="355" font-size="15.94" font-weight="bold" fill="#0000ff" textLength="102.3" lengthAdjust="spacingAndGlyphs" text-rendering="geometricPrecision">Einstieg 18053</text>
<text x="645.5" y="376" font-size="15.94" font-weight="bold" fill="#0000ff" textLength="84.7" lengthAdjust="spacingAndGlyphs" text-rendering="geometricPrecision">Stopp 18029</text>
<text x="644" y="399" font-size="14.5" font-weight="normal" fill="#000" textLength="85.2" lengthAdjust="spacingAndGlyphs" stroke="#000" stroke-width="0.45">1R=24 Punkte</text>
<text x="644.8" y="415" font-size="14.5" font-weight="normal" fill="#000" textLength="57" lengthAdjust="spacingAndGlyphs" stroke="#000" stroke-width="0.45">1R: 18077</text>
<text x="644.8" y="431" font-size="14.5" font-weight="normal" fill="#000" textLength="57" lengthAdjust="spacingAndGlyphs" stroke="#000" stroke-width="0.45">2R: 18101</text>
<text x="644.8" y="447" font-size="14.5" font-weight="normal" fill="#000" textLength="57" lengthAdjust="spacingAndGlyphs" stroke="#000" stroke-width="0.45">3R: 18125</text>
<text x="644.8" y="463" font-size="14.5" font-weight="normal" fill="#000" textLength="57" lengthAdjust="spacingAndGlyphs" stroke="#000" stroke-width="0.45">4R: 18149</text>
<text x="932.4" y="26" font-size="14.5" font-weight="bold" fill="#000" textLength="53" lengthAdjust="spacingAndGlyphs">18080.00</text>
<text x="932.4" y="76" font-size="14.5" font-weight="bold" fill="#000" textLength="53" lengthAdjust="spacingAndGlyphs">18070.00</text>
<text x="932.4" y="127" font-size="14.5" font-weight="bold" fill="#000" textLength="53" lengthAdjust="spacingAndGlyphs">18060.00</text>
<text x="932.4" y="177" font-size="14.5" font-weight="bold" fill="#000" textLength="53" lengthAdjust="spacingAndGlyphs">18050.00</text>
<text x="932.4" y="227" font-size="14.5" font-weight="bold" fill="#000" textLength="53" lengthAdjust="spacingAndGlyphs">18040.00</text>
<text x="932.4" y="278" font-size="14.5" font-weight="bold" fill="#000" textLength="53" lengthAdjust="spacingAndGlyphs">18030.00</text>
<text x="932.4" y="328" font-size="14.5" font-weight="bold" fill="#000" textLength="53" lengthAdjust="spacingAndGlyphs">18020.00</text>
<text x="932.4" y="379" font-size="14.5" font-weight="bold" fill="#000" textLength="53" lengthAdjust="spacingAndGlyphs">18010.00</text>
<text x="932.4" y="429" font-size="14.5" font-weight="bold" fill="#000" textLength="53" lengthAdjust="spacingAndGlyphs">18000.00</text>
<text x="932.4" y="480" font-size="14.5" font-weight="bold" fill="#000" textLength="53" lengthAdjust="spacingAndGlyphs">17990.00</text>
<text x="8.1" y="608" font-size="14.5" font-weight="bold" fill="#000" textLength="32" lengthAdjust="spacingAndGlyphs">18:30</text>
<text x="128.1" y="608" font-size="14.5" font-weight="bold" fill="#000" textLength="32" lengthAdjust="spacingAndGlyphs">19:00</text>
<text x="248.1" y="608" font-size="14.5" font-weight="bold" fill="#000" textLength="32" lengthAdjust="spacingAndGlyphs">19:30</text>
<text x="368.1" y="608" font-size="14.5" font-weight="bold" fill="#000" textLength="32" lengthAdjust="spacingAndGlyphs">20:00</text>
<text x="488.1" y="608" font-size="14.5" font-weight="bold" fill="#000" textLength="32" lengthAdjust="spacingAndGlyphs">20:30</text>
<text x="608.1" y="608" font-size="14.5" font-weight="bold" fill="#000" textLength="32" lengthAdjust="spacingAndGlyphs">21:00</text>
<text x="728.1" y="608" font-size="14.5" font-weight="bold" fill="#000" textLength="32" lengthAdjust="spacingAndGlyphs">21:30</text>
<text x="848.1" y="608" font-size="14.5" font-weight="bold" fill="#000" textLength="32" lengthAdjust="spacingAndGlyphs">22:00</text>
<circle cx="5.4" cy="473" r="2.3" fill="none" stroke="#000" stroke-width="0.9"/><rect x="4.8" y="472.3" width="1.4" height="1.4" fill="#000"/>
<text x="10.7" y="476" font-size="8.7" fill="#000" stroke="#000" stroke-width="0.35" textLength="47.6" lengthAdjust="spacingAndGlyphs">eSignal, 2010</text>
<text x="931.8" y="243" font-size="14.5" font-weight="bold" fill="#fff" textLength="54" lengthAdjust="spacingAndGlyphs">18036.83</text>
<text x="933.1" y="497" font-size="14.5" font-weight="bold" fill="#000" textLength="19" lengthAdjust="spacingAndGlyphs">100</text>
<text x="933.1" y="559" font-size="14.5" font-weight="bold" fill="#000" textLength="19" lengthAdjust="spacingAndGlyphs">100</text>
<text x="932.4" y="591" font-size="14.5" font-weight="bold" fill="#000" textLength="7" lengthAdjust="spacingAndGlyphs">0</text>
<text x="932.2" y="530" font-size="14.5" font-weight="bold" fill="#fff" textLength="32" lengthAdjust="spacingAndGlyphs">28.98</text>
<text x="932.2" y="575" font-size="14.5" font-weight="bold" fill="#fff" textLength="32" lengthAdjust="spacingAndGlyphs">49.56</text>
</svg>
</body></html>
